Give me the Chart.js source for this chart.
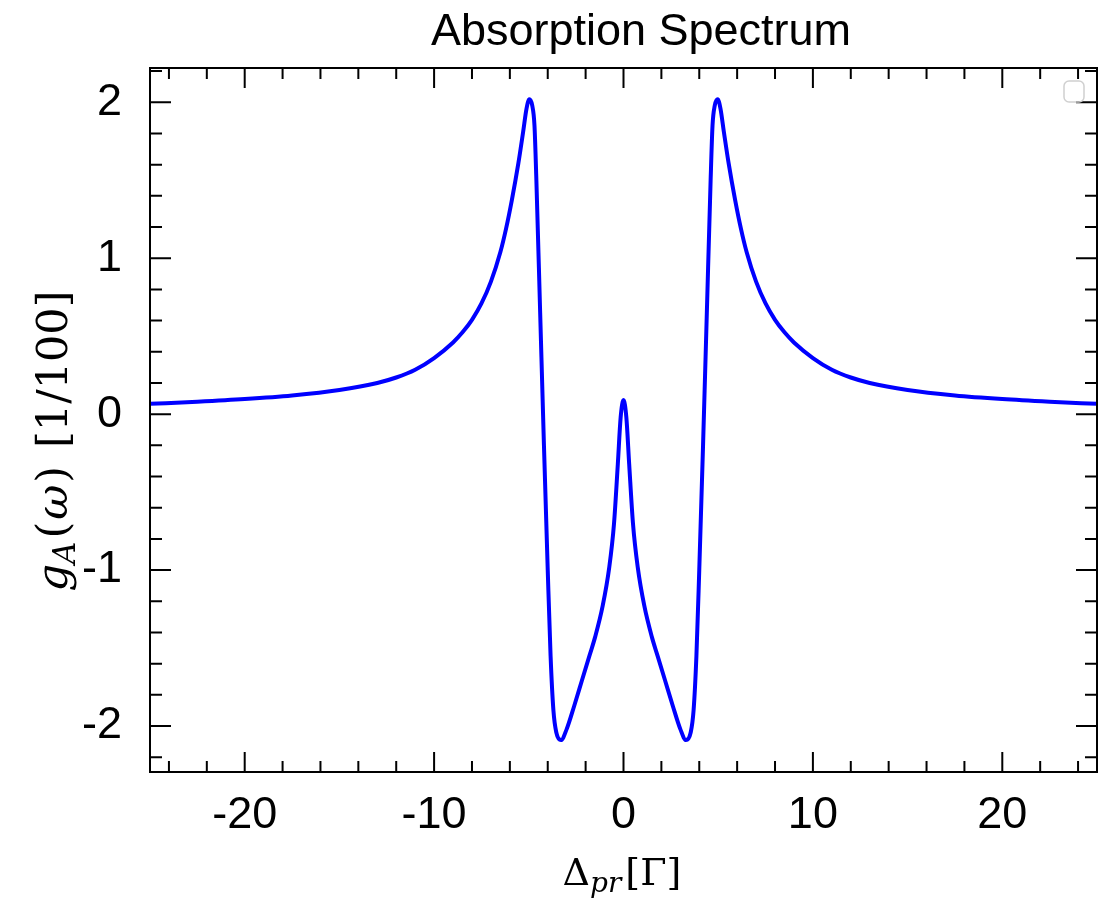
<!DOCTYPE html>
<html>
<head>
<meta charset="utf-8">
<title>Absorption Spectrum</title>
<script src="https://cdn.jsdelivr.net/npm/chart.js@4.4.1/dist/chart.umd.min.js"></script>
<style>
  html, body { margin: 0; padding: 0; background: #fff; }
  #wrap { width: 1102px; height: 911px; position: relative; }
</style>
</head>
<body>
<div id="wrap"><canvas id="spectrum"></canvas></div>
<script>
// probe detuning (units of Gamma) and absorption g_A (units of 1/100)
const detuning = [
  -25, -22.5, -20, -17.5, -15, -13, -12, -11, -10, -9, -8.5, -8, -7.5, -7, -6.5, -6.2, -5.9, -5.55,
  -5.3, -5.12, -4.97, -4.82, -4.7, -4.6, -4.4, -4.2, -4.0, -3.85, -3.7, -3.55, -3.3, -3.0, -2.6,
  -2.2, -1.8, -1.5, -1.1, -0.75, -0.5, -0.3, -0.15, 0,
  0.15, 0.3, 0.5, 0.75, 1.1, 1.5, 1.8, 2.2, 2.6, 3.0, 3.3, 3.55, 3.7, 3.85, 4.0, 4.2, 4.4,
  4.6, 4.7, 4.82, 4.97, 5.12, 5.3, 5.55, 5.9, 6.2, 6.5, 7, 7.5, 8, 8.5, 9, 10, 11, 12, 13, 15, 17.5, 20, 22.5, 25
];
const absorption = [
  0.066, 0.080, 0.097, 0.120, 0.155, 0.200, 0.235, 0.285, 0.36, 0.46, 0.525, 0.605, 0.71, 0.85, 1.04, 1.19, 1.37, 1.61,
  1.81, 1.96, 2.02, 1.98, 1.85, 1.50, 0.65, -0.20, -1.00, -1.55, -1.90, -2.04, -2.09, -2.02, -1.87,
  -1.71, -1.55, -1.43, -1.23, -0.98, -0.70, -0.32, -0.02, 0.09,
  -0.02, -0.32, -0.70, -0.98, -1.23, -1.43, -1.55, -1.71, -1.87, -2.02, -2.09, -2.04, -1.90, -1.55, -1.00, -0.20, 0.65,
  1.50, 1.85, 1.98, 2.02, 1.96, 1.81, 1.61, 1.37, 1.19, 1.04, 0.85, 0.71, 0.605, 0.525, 0.46, 0.36, 0.285, 0.235, 0.200, 0.155, 0.120, 0.097, 0.080, 0.066
];

const xTickLabels = [-20, -10, 0, 10, 20];
const yTickLabels = [-2, -1, 0, 1, 2];
const xMinorTicks = [-24, -22, -18, -16, -14, -12, -8, -6, -4, -2, 2, 4, 6, 8, 12, 14, 16, 18, 22, 24];
const yMinorTicks = [-2.2, -1.8, -1.6, -1.4, -1.2, -0.8, -0.6, -0.4, -0.2, 0.2, 0.4, 0.6, 0.8, 1.2, 1.4, 1.6, 1.8, 2.2];

const points = detuning.map((x, i) => ({ x, y: absorption[i] }));

/* ── frame, inward ticks on all four sides, titles ── */
const framePlugin = {
  id: 'frame',
  afterDraw(chart) {
    const { ctx, chartArea: a, scales: { x, y } } = chart;
    ctx.save();
    ctx.strokeStyle = '#000';
    ctx.lineWidth = 2;
    ctx.strokeRect(a.left, a.top, a.right - a.left, a.bottom - a.top);

    ctx.beginPath();
    const xt = (v, len) => {
      const px = x.getPixelForValue(v);
      ctx.moveTo(px, a.bottom); ctx.lineTo(px, a.bottom - len);
      ctx.moveTo(px, a.top);    ctx.lineTo(px, a.top + len);
    };
    const yt = (v, len) => {
      const py = y.getPixelForValue(v);
      ctx.moveTo(a.left, py);  ctx.lineTo(a.left + len, py);
      ctx.moveTo(a.right, py); ctx.lineTo(a.right - len, py);
    };
    xTickLabels.forEach(v => xt(v, 20));
    xMinorTicks.forEach(v => xt(v, 11));
    yTickLabels.forEach(v => yt(v, 21));
    yMinorTicks.forEach(v => yt(v, 12));
    ctx.stroke();

    // empty legend box in the corner
    ctx.strokeStyle = '#d0d0d0';
    ctx.lineWidth = 1.5;
    ctx.beginPath();
    ctx.roundRect(a.right - 33, a.top + 13, 20, 21, 5);
    ctx.stroke();

    ctx.fillStyle = '#000';
    ctx.textBaseline = 'alphabetic';

    // title
    ctx.font = '45px "Liberation Sans", Arial, sans-serif';
    ctx.textAlign = 'center';
    ctx.fillText('Absorption Spectrum', 641, 45);

    // x title: Δ_pr [Γ]
    const parts = (list) => list.reduce((w, p) => { ctx.font = p.f; return w + ctx.measureText(p.t).width + (p.gap || 0); }, 0);
    const draw = (list, x0, base) => {
      let cx = x0;
      ctx.textAlign = 'left';
      list.forEach(p => {
        ctx.font = p.f;
        ctx.fillText(p.t, cx, base + (p.dy || 0));
        cx += ctx.measureText(p.t).width + (p.gap || 0);
      });
    };
    const serif = '"DejaVu Serif", "Liberation Serif", serif';
    const xTitle = [
      { t: 'Δ', f: `38px ${serif}` },
      { t: 'pr', f: `italic 28px ${serif}`, dy: 7, gap: 4 },
      { t: '[Γ]', f: `38px ${serif}` }
    ];
    const wx = parts(xTitle);
    draw(xTitle, 622 - wx / 2, 885);

    // y title: g_A(ω) [1/100], rotated
    const yTitle = [
      { t: 'g', f: `italic 43px ${serif}` },
      { t: 'A', f: `italic 31px ${serif}`, dy: 8, gap: 3 },
      { t: '(', f: `43px ${serif}`, gap: 2 },
      { t: 'ω', f: `italic 43px ${serif}`, gap: 2 },
      { t: ')', f: `43px ${serif}`, gap: 18 },
      { t: '[1/100]', f: `43px ${serif}` }
    ];
    const wy = parts(yTitle);
    ctx.translate(67, 441);
    ctx.rotate(-Math.PI / 2);
    draw(yTitle, -wy / 2, 0);
    ctx.restore();
  }
};

/* ── Spectrum chart ── */
const ctx = document.getElementById('spectrum').getContext('2d');

new Chart(ctx, {
  type: 'line',
  data: {
    datasets: [{
      data: points,
      borderColor: '#0000ff',
      borderWidth: 4,
      pointRadius: 0,
      fill: false,
      cubicInterpolationMode: 'monotone',
    }]
  },
  options: {
    responsive: true,
    maintainAspectRatio: false,
    animation: false,
    layout: { padding: { left: 0, right: 5, top: 68, bottom: 0 } },
    plugins: {
      legend: { display: false },
      tooltip: { enabled: false }
    },
    scales: {
      x: {
        type: 'linear',
        min: -25,
        max: 25,
        afterBuildTicks: s => { s.ticks = xTickLabels.map(value => ({ value })); },
        afterFit: s => { s.height = 139; },
        grid: { display: false, drawTicks: false },
        border: { display: false },
        ticks: {
          color: '#000',
          padding: 17,
          maxRotation: 0,
          font: { family: '"Liberation Sans", Arial, sans-serif', size: 45 }
        }
      },
      y: {
        type: 'linear',
        min: -2.295,
        max: 2.22,
        afterBuildTicks: s => { s.ticks = yTickLabels.map(value => ({ value })); },
        afterFit: s => { s.width = 150; },
        grid: { display: false, drawTicks: false },
        border: { display: false },
        ticks: {
          color: '#000',
          padding: 28,
          font: { family: '"Liberation Sans", Arial, sans-serif', size: 45 }
        }
      }
    }
  },
  plugins: [framePlugin]
});
</script>
</body>
</html>
